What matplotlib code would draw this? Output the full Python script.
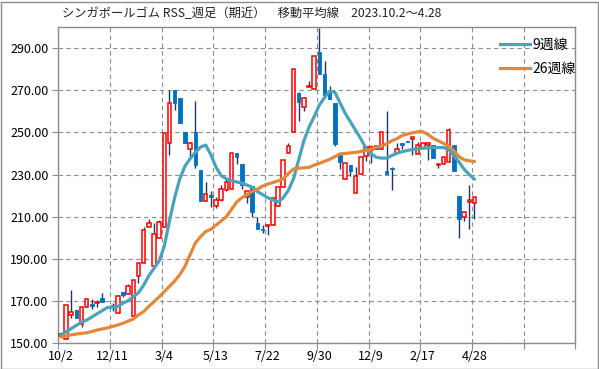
import numpy as np
import matplotlib
matplotlib.use("Agg")
import matplotlib.pyplot as plt
from matplotlib.lines import Line2D
from matplotlib.patches import Rectangle

plt.rcParams['font.family'] = ['Noto Sans CJK JP', 'DejaVu Sans']

title = "シンガポールゴム RSS_週足（期近）　移動平均線　2023.10.2～4.28"
tick_labels = ['10/2', '12/11', '3/4', '5/13', '7/22', '9/30', '12/9', '2/17', '4/28']
ma_labels = ['9週線', '26週線']

nan = np.nan
opens = [153.5, 152.2, 163.6, 165.8, 159.2, 167.0, 168.6, 169.0, 171.4, nan,
         168.1, 164.6, 174.1, 173.2, 163.1, 181.7, 187.9, 205.0, 186.7, 199.8,
         205.0, 244.8, 270.0, 266.3, 250.2, 242.0, 250.3, 232.2, 217.6, 220.3,
         215.0, 218.0, 222.8, 223.0, 240.1, 235.0, 219.5, 224.5, 206.9, 204.3,
         205.6, 206.3, 215.0, 224.2, 240.1, 250.0, 268.6, 261.8, 271.4, 270.4,
         288.1, 277.6, 269.8, 264.0, 239.4, 227.9, 234.5, 221.1, 230.2, 238.7,
         241.7, 244.1, 242.0, 231.7, 233.3, 240.1, 245.0, 245.9, 246.7, 239.8,
         242.7, 244.0, 244.0, 234.4, 234.9, 235.8, 244.0, 219.8, 210.0, 216.8,
         216.6]
highs = [154.2, 168.2, 175.3, 165.8, 167.0, 171.0, 171.0, 170.3, 173.7, nan,
         169.2, 173.0, 174.2, 178.1, 180.2, 188.0, 205.2, 208.8, 206.9, 208.5,
         250.0, 270.0, 270.2, 266.5, 250.2, 245.3, 265.0, 232.2, 226.6, 222.0,
         219.5, 225.0, 228.0, 240.1, 240.2, 235.0, 222.3, 224.5, 209.8, 206.1,
         206.7, 219.3, 224.3, 236.8, 245.0, 280.0, 269.0, 266.6, 274.2, 286.2,
         299.3, 283.7, 271.8, 264.0, 239.6, 235.3, 234.6, 233.5, 238.4, 242.9,
         244.0, 244.2, 250.0, 260.0, 233.4, 244.8, 245.0, 246.0, 247.7, 245.6,
         245.0, 245.2, 244.1, 235.0, 238.2, 252.0, 244.0, 219.8, 212.1, 225.0,
         219.5]
lows = [153.5, 152.2, 161.9, 161.9, 157.6, 167.0, 166.1, 167.4, 169.7, nan,
        165.2, 164.6, 172.1, 173.2, 163.1, 178.8, 187.9, 205.0, 186.7, 199.8,
        205.0, 239.3, 260.8, 254.6, 245.1, 238.5, 233.2, 217.6, 217.6, 214.8,
        214.0, 217.6, 222.0, 223.0, 235.1, 223.0, 216.4, 210.0, 204.0, 202.1,
        201.3, 206.1, 214.9, 224.0, 240.0, 250.0, 255.5, 260.2, 271.4, 270.4,
        277.5, 267.5, 265.6, 243.7, 232.8, 227.9, 229.2, 221.1, 230.2, 236.5,
        235.6, 242.1, 242.0, 230.1, 222.8, 240.0, 242.0, 245.2, 239.3, 239.8,
        242.7, 236.9, 237.7, 233.0, 234.9, 235.8, 231.8, 199.8, 208.2, 204.0,
        208.8]
closes = [154.2, 168.0, 165.0, 162.0, 167.0, 171.0, 167.8, 169.7, 169.8, nan,
          166.8, 172.4, 172.9, 177.4, 180.0, 187.9, 203.5, 206.9, 201.7, 207.4,
          249.9, 263.8, 263.8, 254.6, 245.1, 244.8, 234.5, 217.6, 220.6, 219.5,
          218.0, 223.0, 226.5, 240.0, 238.1, 225.2, 222.1, 212.4, 204.1, 203.5,
          206.1, 218.9, 224.2, 236.7, 243.3, 279.9, 264.6, 266.5, 271.8, 286.1,
          277.6, 267.7, 265.9, 244.5, 236.0, 235.3, 231.8, 229.2, 238.3, 242.9,
          243.0, 242.2, 250.0, 230.2, 232.6, 242.0, 243.9, 245.3, 247.7, 244.2,
          244.8, 245.0, 237.7, 235.0, 238.2, 251.2, 231.8, 208.8, 212.1, 217.9,
          219.2]
ma9 = [154.0, 155.5, 157.0, 158.5, 160.0, 161.0, 162.5, 164.0, 165.5, 167.0,
       167.0, 167.5, 169.0, 170.2, 172.0, 174.0, 177.5, 182.0, 185.5, 189.0,
       196.0, 208.0, 219.0, 228.0, 234.0, 237.5, 240.5, 243.0, 244.0, 239.5,
       233.5, 229.5, 228.0, 227.0, 226.5, 226.0, 225.0, 224.0, 222.0, 220.5,
       219.0, 218.0, 217.0, 219.0, 222.5, 228.0, 237.0, 246.0, 252.5, 257.5,
       263.0, 266.5, 269.5, 269.0, 264.0, 259.0, 255.0, 251.0, 247.0, 242.5,
       240.0, 238.2, 237.8, 237.8, 239.0, 240.1, 240.8, 241.4, 241.9, 242.2,
       242.5, 242.6, 242.7, 242.8, 242.8, 242.0, 239.0, 236.0, 232.5, 230.0,
       227.8]
ma26 = [153.0, 153.5, 154.0, 154.4, 154.7, 155.0, 155.6, 156.3, 156.8, 157.3,
        158.0, 158.7, 159.5, 160.5, 161.5, 163.5, 165.0, 167.5, 169.7, 172.0,
        174.5, 177.0, 179.5, 182.5, 186.5, 192.0, 197.5, 200.5, 203.0, 204.0,
        206.0, 208.0, 210.0, 213.5, 217.0, 219.0, 220.5, 222.0, 223.0, 224.5,
        225.5, 226.2, 227.0, 228.0, 230.5, 232.7, 233.0, 233.2, 233.4, 234.5,
        235.3, 236.3, 237.2, 238.5, 239.8, 240.0, 240.3, 240.5, 241.0, 241.5,
        242.0, 243.0, 243.5, 244.5, 246.0, 247.0, 248.5, 249.2, 249.8, 250.2,
        250.3, 249.0, 247.2, 246.0, 244.8, 243.5, 241.3, 238.5, 237.0, 236.5,
        236.2]

o = np.array(opens); h = np.array(highs); l = np.array(lows); c = np.array(closes)
n = len(o)
x = np.arange(n) + 0.5

W, H = 599, 369
fig = plt.figure(figsize=(W / 100, H / 100), dpi=100)
fig.patch.set_facecolor('white')
fig.patches.append(Rectangle((0.5 / W, 0.5 / H), 1 - 2 / W, 1 - 2 / H, transform=fig.transFigure,
                             fill=False, edgecolor='#8c8c8c', lw=1.0))

ax = fig.add_axes([58.3 / W, 1 - 343.3 / H, 517 / W, (343.3 - 26.9) / H])
ax.set_xlim(0, 100)
ax.set_ylim(150, 300)

grid_c = '#8c8c8c'
ax.set_yticks(np.arange(150, 291, 20))
ax.set_yticklabels([f"{v:.2f}" for v in np.arange(150, 291, 20)], fontsize=9)
ax.set_xticks(np.arange(0, 101, 10))
ax.set_xticklabels([''] * 11)
ax.set_xticks(np.arange(len(tick_labels)) * 10 + 0.5, minor=True)
ax.set_xticklabels(tick_labels, minor=True, fontsize=9)
ax.tick_params(axis='x', which='minor', length=0, pad=5)
ax.tick_params(axis='x', which='major', length=4, color=grid_c, direction='out')
ax.tick_params(axis='y', length=4, color=grid_c, direction='out', pad=3)
ax.grid(True, which='major', color=grid_c, linestyle=(0, (4, 3)), linewidth=0.8)
ax.set_axisbelow(True)
for s in ax.spines.values():
    s.set_color(grid_c)
    s.set_linewidth(1.0)

up = c >= o
bw = 0.68
ax.vlines(x, l, h, color='#1f3564', linewidth=1.0, zorder=2)
ax.bar(x[up], (c - o)[up], bottom=o[up], width=bw, facecolor='white', edgecolor='#ff0000',
       linewidth=1.1, zorder=3)
ax.bar(x[~up], (o - c)[~up], bottom=c[~up], width=bw, facecolor='#0070c0', edgecolor='#0070c0',
       linewidth=0.6, zorder=3)

teal = '#4aa3bd'
orange = '#e2883c'
ax.plot(x, ma9, color=teal, linewidth=2.3, zorder=4, solid_capstyle='round')
ax.plot(x, ma26, color=orange, linewidth=2.3, zorder=4, solid_capstyle='round')

handles = [Line2D([], [], color=teal, lw=2.3), Line2D([], [], color=orange, lw=2.3)]
leg = ax.legend(handles, ma_labels, loc='upper left', bbox_to_anchor=(0.835, 0.995), frameon=False,
                fontsize=10, handlelength=2.2, handletextpad=0.15, labelspacing=0.7, borderpad=0.2)

fig.text(62 / W, 1 - 14 / H, title, fontsize=8.8, ha='left', va='center', color='#222222')

fig.savefig('out.png', dpi=100)
